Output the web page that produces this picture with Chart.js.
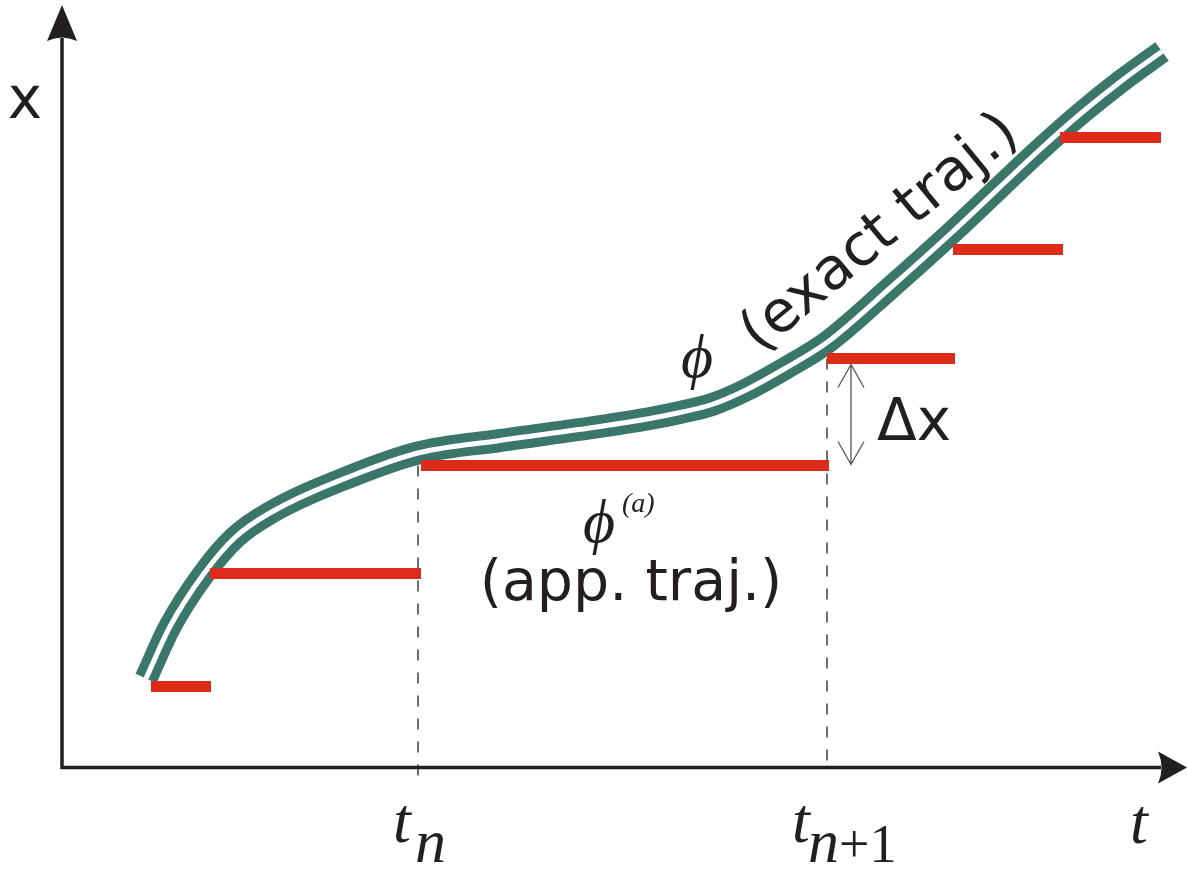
<!DOCTYPE html>
<html>
<head>
<meta charset="utf-8">
<script src="https://cdn.jsdelivr.net/npm/chart.js@4.4.1/dist/chart.umd.min.js"></script>
<style>
  html, body { margin: 0; padding: 0; background: #fff; }
  #wrap { width: 1187px; height: 869px; }
</style>
</head>
<body>
<div id="wrap"><canvas id="traj" width="1187" height="869"></canvas></div>
<script>
// exact trajectory (centre of the double line), t / x in plot units
const curveT = [0.84, 1.08, 1.42, 1.73, 2.07, 2.88, 3.58, 4.38, 5.38, 5.88, 6.18, 6.50, 6.83, 7.23, 7.65, 8.31, 8.91, 9.78, 10.20, 10.60, 11.00];
const curveX = [0.89, 1.41, 1.94, 2.30, 2.54, 2.91, 3.15, 3.27, 3.41, 3.49, 3.55, 3.63, 3.77, 3.99, 4.25, 4.82, 5.36, 6.18, 6.55, 6.87, 7.16];

// approximate trajectory: constant steps
const stepStart = [0.89, 1.48, 3.59, 7.65, 8.91, 9.98];
const stepEnd   = [1.49, 3.59, 7.67, 8.93, 10.01, 10.99];
const stepLevel = [0.81, 1.94, 3.02, 4.09, 5.18, 6.30];

// tick marks t_n and t_{n+1}
const tickT     = [3.56, 7.65];
const tickMain  = ['t', 't'];
const tickSub   = ['n', 'n+1'];
const dropTop   = [3.02, 4.09];
const dropBot   = [-0.17, 0.05];

const TEAL = '#3b766b';
const RED = '#dc2a1b';
const INK = '#231f20';

const curvePts = curveT.map((t, i) => ({ x: t, y: curveX[i] }));

const stepPts = [];
stepStart.forEach((s, i) => {
    stepPts.push({ x: s, y: stepLevel[i] });
    stepPts.push({ x: stepEnd[i], y: stepLevel[i] });
    stepPts.push({ x: stepEnd[i], y: null });
});

const dropPts = [];
tickT.forEach((t, i) => {
    dropPts.push({ x: t, y: dropTop[i] });
    dropPts.push({ x: t, y: dropBot[i] });
    dropPts.push({ x: t, y: null });
});

const SANS = '"DejaVu Sans", sans-serif';
const SERIF = '"Liberation Serif", serif';
const PHI = '\u03d5';

/**
 * Axes, arrows and labels
 */
const decorPlugin = {
    id: 'decor',
    beforeDatasetsDraw(chart) {
        const { ctx, chartArea } = chart;
        const xs = chart.scales.x, ys = chart.scales.y;
        const x0 = xs.getPixelForValue(0), y0 = ys.getPixelForValue(0);
        ctx.save();
        ctx.strokeStyle = INK;
        ctx.fillStyle = INK;
        ctx.lineWidth = 3.5;
        ctx.beginPath();
        ctx.moveTo(x0, y0 + 1.75);
        ctx.lineTo(x0, 38);
        ctx.moveTo(x0 - 1.75, y0);
        ctx.lineTo(chartArea.right - 26, y0);
        ctx.stroke();
        // arrow heads
        ctx.beginPath();
        ctx.moveTo(x0, chartArea.top + 5);
        ctx.lineTo(x0 + 15, 41);
        ctx.quadraticCurveTo(x0, 34, x0 - 15, 41);
        ctx.closePath();
        ctx.fill();
        const tip = chartArea.right;
        ctx.beginPath();
        ctx.moveTo(tip, y0);
        ctx.lineTo(tip - 29, y0 - 16);
        ctx.quadraticCurveTo(tip - 22, y0, tip - 29, y0 + 16);
        ctx.closePath();
        ctx.fill();
        ctx.restore();
    },
    afterDatasetsDraw(chart) {
        const { ctx } = chart;
        const xs = chart.scales.x, ys = chart.scales.y;
        const px = v => xs.getPixelForValue(v);
        const py = v => ys.getPixelForValue(v);
        ctx.save();
        ctx.fillStyle = INK;
        ctx.textBaseline = 'alphabetic';

        // y axis name
        ctx.font = '58px ' + SANS;
        ctx.textAlign = 'center';
        ctx.fillText('x', 25, 118);

        // tick labels under the t axis
        tickT.forEach((t, i) => {
            const sub = tickSub[i];
            const left = px(t) - (sub.length > 1 ? 35 : 25);
            ctx.textAlign = 'left';
            ctx.font = 'italic 64px ' + SERIF;
            ctx.fillText(tickMain[i], left, 842);
            ctx.font = 'italic 62px ' + SERIF;
            const sx = left + (sub.length > 1 ? 16 : 22);
            ctx.fillText(sub[0], sx, 862);
            if (sub.length > 1) {
                const w = ctx.measureText(sub[0]).width;
                ctx.font = '54px ' + SERIF;
                ctx.fillText(sub.slice(1), sx + w, 862);
            }
        });
        ctx.font = 'italic 64px ' + SERIF;
        ctx.textAlign = 'left';
        ctx.fillText('t', 1130, 843);

        // Δx arrow between two consecutive steps
        const ax = px(7.89);
        const top = py(stepLevel[3]) + 6, bot = py(stepLevel[2]) - 1;
        ctx.strokeStyle = '#555';
        ctx.lineWidth = 1.3;
        ctx.beginPath();
        ctx.moveTo(ax, top); ctx.lineTo(ax, bot);
        ctx.moveTo(ax - 13, top + 23); ctx.lineTo(ax, top); ctx.lineTo(ax + 13, top + 23);
        ctx.moveTo(ax - 13, bot - 23); ctx.lineTo(ax, bot); ctx.lineTo(ax + 13, bot - 23);
        ctx.stroke();
        ctx.font = '58px ' + SANS;
        ctx.fillText('\u0394x', ax + 26, 440);

        // approximate trajectory label
        ctx.font = 'italic 62px ' + SERIF;
        ctx.textAlign = 'center';
        ctx.fillText(PHI, 599, 542);
        ctx.font = 'italic 28px ' + SERIF;
        ctx.textAlign = 'left';
        ctx.fillText('(a)', 622, 512);
        ctx.font = '57px ' + SANS;
        ctx.textAlign = 'center';
        ctx.fillText('(app. traj.)', 631, 600);

        // exact trajectory label
        ctx.font = 'italic 62px ' + SERIF;
        ctx.fillText(PHI, 697, 377);
        ctx.save();
        ctx.translate(881, 234);
        ctx.rotate(-39.5 * Math.PI / 180);
        ctx.font = '58px ' + SANS;
        ctx.textBaseline = 'middle';
        ctx.fillText('(exact traj.)', 0, 0);
        ctx.restore();

        ctx.restore();
    }
};

new Chart(document.getElementById('traj'), {
    type: 'scatter',
    data: {
        datasets: [
            {
                label: 'exact',
                data: curvePts,
                showLine: true,
                borderColor: TEAL,
                borderWidth: 23,
                borderCapStyle: 'butt',
                cubicInterpolationMode: 'monotone',
                pointRadius: 0,
                order: 4
            },
            {
                label: 'exact gap',
                data: curvePts,
                showLine: true,
                borderColor: '#ffffff',
                borderWidth: 5,
                borderCapStyle: 'butt',
                cubicInterpolationMode: 'monotone',
                pointRadius: 0,
                order: 3
            },
            {
                label: 'approx',
                data: stepPts,
                showLine: true,
                spanGaps: false,
                borderColor: RED,
                borderWidth: 11,
                borderCapStyle: 'butt',
                pointRadius: 0,
                order: 1
            },
            {
                label: 'ticks',
                data: dropPts,
                showLine: true,
                spanGaps: false,
                borderColor: INK,
                borderWidth: 1.3,
                borderDash: [11, 12],
                pointRadius: 0,
                order: 2
            }
        ]
    },
    options: {
        responsive: false,
        animation: false,
        layout: { padding: 0 },
        plugins: {
            legend: { display: false },
            tooltip: { enabled: false }
        },
        scales: {
            x: { type: 'linear', min: -0.62, max: 11.25, display: false },
            y: { type: 'linear', min: -1.015, max: 7.675, display: false }
        }
    },
    plugins: [decorPlugin]
});
</script>
</body>
</html>
